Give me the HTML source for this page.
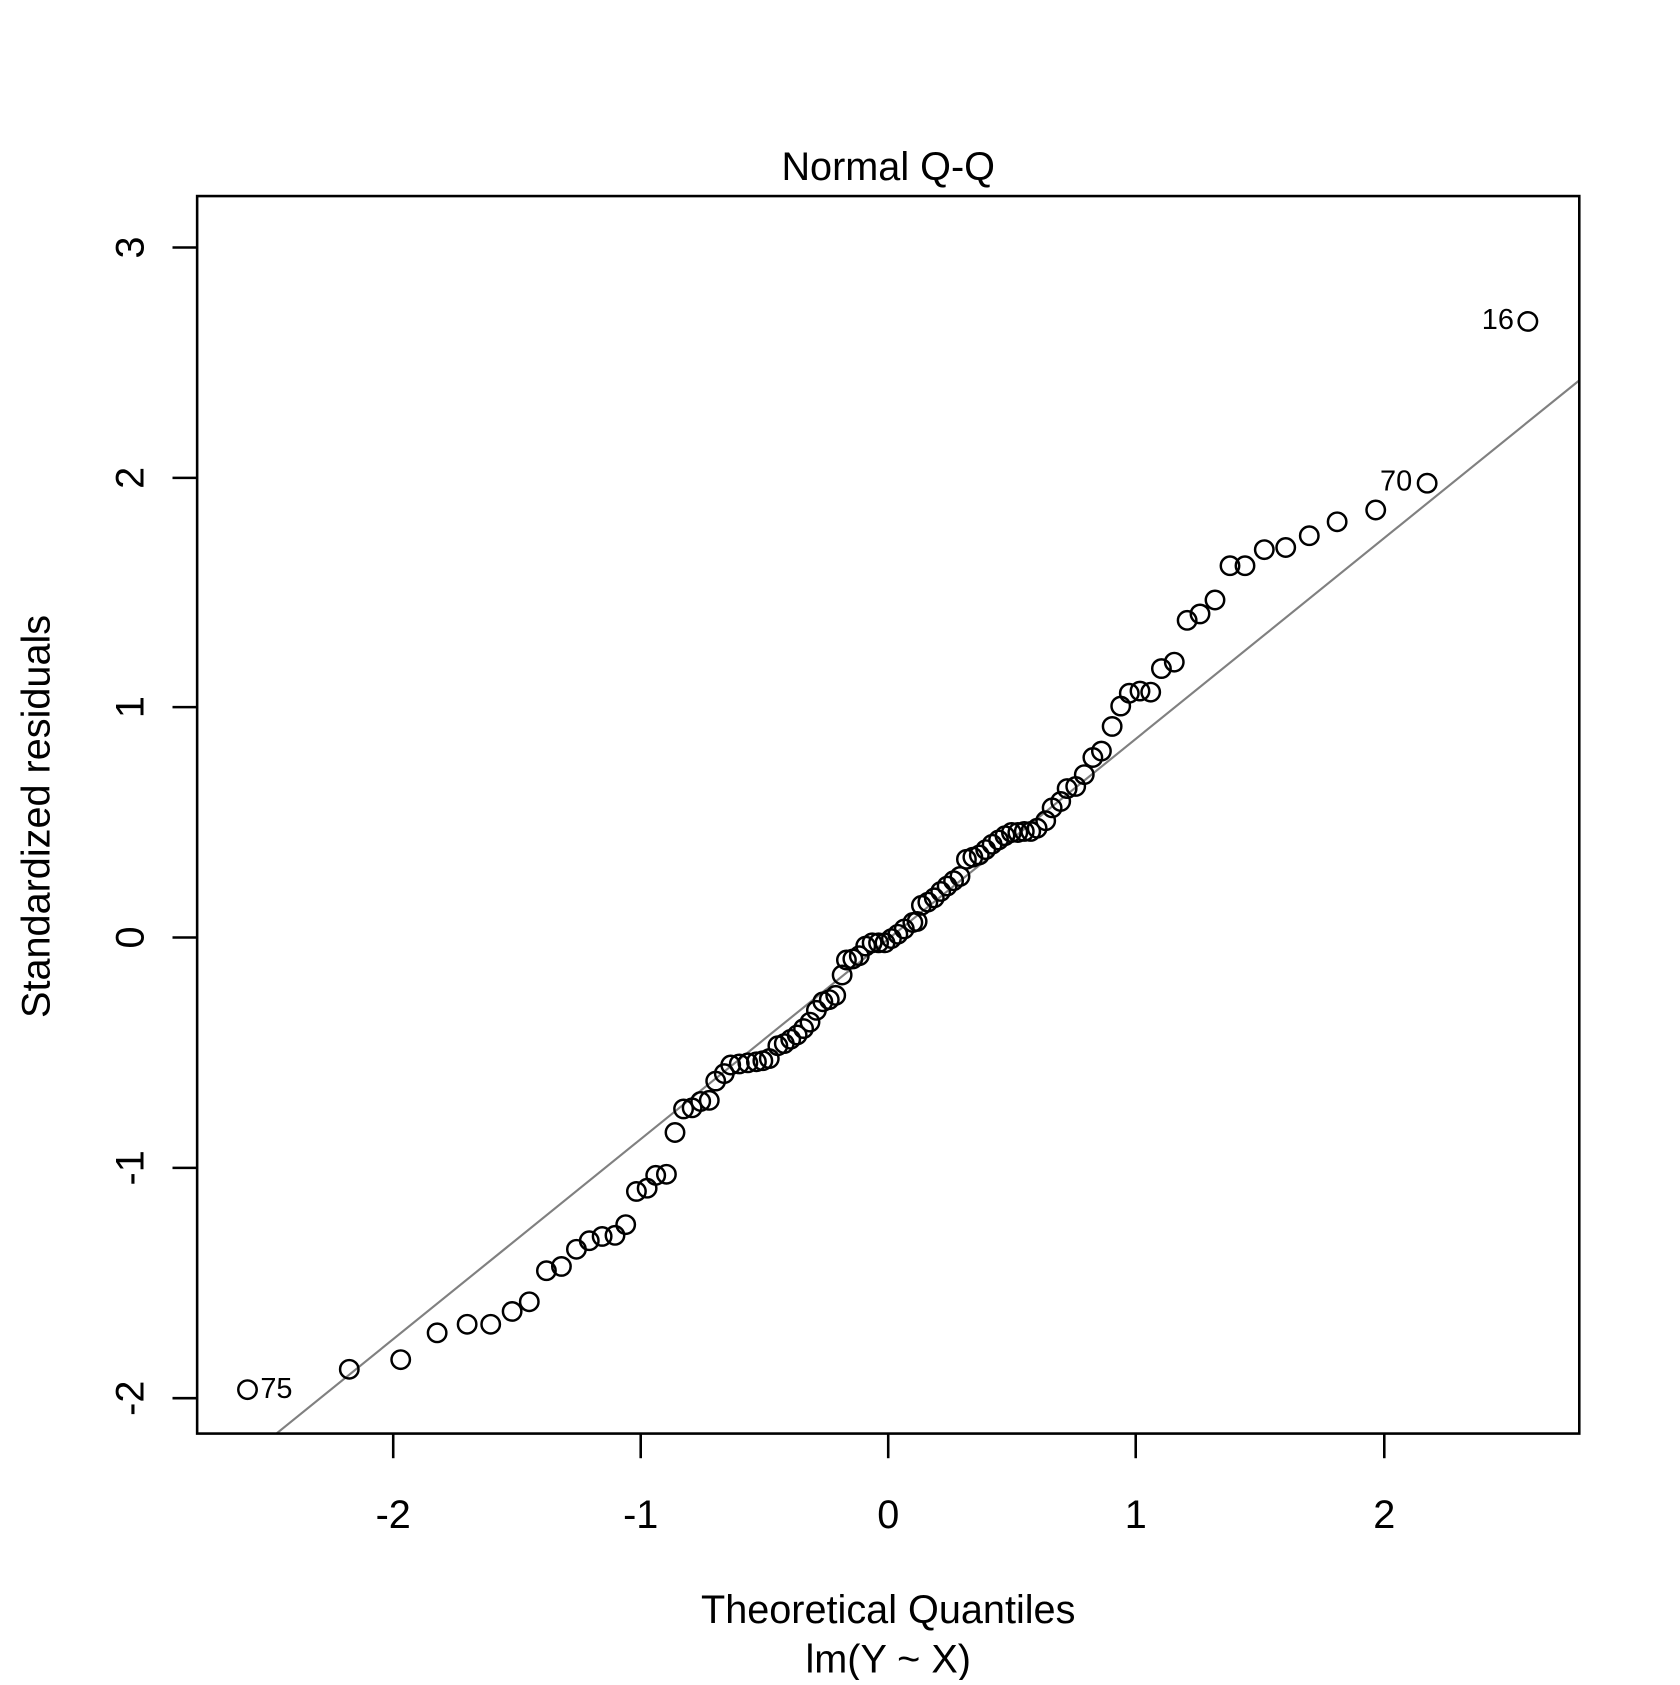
<!DOCTYPE html>
<html><head><style>html,body{margin:0;padding:0;background:#fff}</style></head><body>
<svg width="1680" height="1680" viewBox="0 0 1568 1568" xmlns="http://www.w3.org/2000/svg" font-family="Liberation Sans, sans-serif">
<rect width="1568" height="1568" fill="#fff"/>
<line x1="258" y1="1338" x2="1474" y2="355" stroke="#808080" stroke-width="2"/>
<rect x="184" y="183" width="1290" height="1155" fill="none" stroke="#000" stroke-width="2.4"/>
<g stroke="#000" stroke-width="2.4">
<line x1="367" y1="1338" x2="367" y2="1361"/><line x1="598" y1="1338" x2="598" y2="1361"/><line x1="829" y1="1338" x2="829" y2="1361"/><line x1="1060" y1="1338" x2="1060" y2="1361"/><line x1="1292" y1="1338" x2="1292" y2="1361"/>
<line x1="161" y1="1305" x2="184" y2="1305"/><line x1="161" y1="1090" x2="184" y2="1090"/><line x1="161" y1="875" x2="184" y2="875"/><line x1="161" y1="660" x2="184" y2="660"/><line x1="161" y1="446" x2="184" y2="446"/><line x1="161" y1="231" x2="184" y2="231"/>
</g>
<g font-size="37" text-anchor="middle" fill="#000">
<text x="367" y="1426">-2</text><text x="598" y="1426">-1</text><text x="829" y="1426">0</text><text x="1060" y="1426">1</text><text x="1292" y="1426">2</text>
<text transform="translate(134,1305) rotate(-90)">-2</text>
<text transform="translate(134,1090) rotate(-90)">-1</text>
<text transform="translate(134,875) rotate(-90)">0</text>
<text transform="translate(134,660) rotate(-90)">1</text>
<text transform="translate(134,446) rotate(-90)">2</text>
<text transform="translate(134,231) rotate(-90)">3</text>
<text x="829" y="168">Normal Q-Q</text>
<text x="829" y="1515">Theoretical Quantiles</text>
<text x="829" y="1561">lm(Y ~ X)</text>
<text transform="translate(46,762) rotate(-90)">Standardized residuals</text>
</g>
<g font-size="27" fill="#000">
<text x="243" y="1305">75</text>
<text x="1288" y="458">70</text>
<text x="1383" y="307">16</text>
</g>
<g fill="none" stroke="#000" stroke-width="2.3">
<circle cx="231" cy="1297" r="8.6"/><circle cx="326" cy="1278" r="8.6"/><circle cx="374" cy="1269" r="8.6"/><circle cx="408" cy="1244" r="8.6"/><circle cx="436" cy="1236" r="8.6"/><circle cx="458" cy="1236" r="8.6"/><circle cx="478" cy="1224" r="8.6"/><circle cx="494" cy="1215" r="8.6"/><circle cx="510" cy="1186" r="8.6"/><circle cx="524" cy="1182" r="8.6"/><circle cx="538" cy="1166" r="8.6"/><circle cx="550" cy="1158" r="8.6"/><circle cx="562" cy="1154" r="8.6"/><circle cx="574" cy="1153" r="8.6"/><circle cx="584" cy="1143" r="8.6"/><circle cx="594" cy="1112" r="8.6"/><circle cx="604" cy="1109" r="8.6"/><circle cx="612" cy="1097" r="8.6"/><circle cx="622" cy="1096" r="8.6"/><circle cx="630" cy="1057" r="8.6"/><circle cx="638" cy="1035" r="8.6"/><circle cx="646" cy="1034" r="8.6"/><circle cx="654" cy="1028" r="8.6"/><circle cx="662" cy="1027" r="8.6"/><circle cx="668" cy="1009" r="8.6"/><circle cx="676" cy="1002" r="8.6"/><circle cx="682" cy="994" r="8.6"/><circle cx="690" cy="993" r="8.6"/><circle cx="698" cy="992" r="8.6"/><circle cx="706" cy="991" r="8.6"/><circle cx="712" cy="990" r="8.6"/><circle cx="718" cy="988" r="8.6"/><circle cx="726" cy="976" r="8.6"/><circle cx="732" cy="974" r="8.6"/><circle cx="738" cy="970" r="8.6"/><circle cx="744" cy="966" r="8.6"/><circle cx="750" cy="960" r="8.6"/><circle cx="756" cy="954" r="8.6"/><circle cx="762" cy="943" r="8.6"/><circle cx="768" cy="935" r="8.6"/><circle cx="774" cy="933" r="8.6"/><circle cx="780" cy="929" r="8.6"/><circle cx="786" cy="910" r="8.6"/><circle cx="790" cy="896" r="8.6"/><circle cx="796" cy="895" r="8.6"/><circle cx="802" cy="892" r="8.6"/><circle cx="808" cy="883" r="8.6"/><circle cx="814" cy="880" r="8.6"/><circle cx="820" cy="880" r="8.6"/><circle cx="826" cy="880" r="8.6"/><circle cx="832" cy="876" r="8.6"/><circle cx="838" cy="872" r="8.6"/><circle cx="844" cy="867" r="8.6"/><circle cx="852" cy="861" r="8.6"/><circle cx="856" cy="860" r="8.6"/><circle cx="860" cy="845" r="8.6"/><circle cx="866" cy="842" r="8.6"/><circle cx="872" cy="838" r="8.6"/><circle cx="878" cy="832" r="8.6"/><circle cx="884" cy="827" r="8.6"/><circle cx="890" cy="822" r="8.6"/><circle cx="896" cy="818" r="8.6"/><circle cx="902" cy="802" r="8.6"/><circle cx="908" cy="800" r="8.6"/><circle cx="914" cy="798" r="8.6"/><circle cx="920" cy="793" r="8.6"/><circle cx="926" cy="788" r="8.6"/><circle cx="932" cy="784" r="8.6"/><circle cx="938" cy="780" r="8.6"/><circle cx="944" cy="777" r="8.6"/><circle cx="950" cy="777" r="8.6"/><circle cx="956" cy="776" r="8.6"/><circle cx="962" cy="776" r="8.6"/><circle cx="968" cy="773" r="8.6"/><circle cx="976" cy="766" r="8.6"/><circle cx="982" cy="754" r="8.6"/><circle cx="990" cy="748" r="8.6"/><circle cx="996" cy="736" r="8.6"/><circle cx="1004" cy="734" r="8.6"/><circle cx="1012" cy="723" r="8.6"/><circle cx="1020" cy="707" r="8.6"/><circle cx="1028" cy="701" r="8.6"/><circle cx="1038" cy="678" r="8.6"/><circle cx="1046" cy="659" r="8.6"/><circle cx="1054" cy="647" r="8.6"/><circle cx="1064" cy="645" r="8.6"/><circle cx="1074" cy="646" r="8.6"/><circle cx="1084" cy="624" r="8.6"/><circle cx="1096" cy="618" r="8.6"/><circle cx="1108" cy="579" r="8.6"/><circle cx="1120" cy="573" r="8.6"/><circle cx="1134" cy="560" r="8.6"/><circle cx="1148" cy="528" r="8.6"/><circle cx="1162" cy="528" r="8.6"/><circle cx="1180" cy="513" r="8.6"/><circle cx="1200" cy="511" r="8.6"/><circle cx="1222" cy="500" r="8.6"/><circle cx="1248" cy="487" r="8.6"/><circle cx="1284" cy="476" r="8.6"/><circle cx="1332" cy="451" r="8.6"/><circle cx="1426" cy="300" r="8.6"/>
</g>
</svg>
</body></html>
